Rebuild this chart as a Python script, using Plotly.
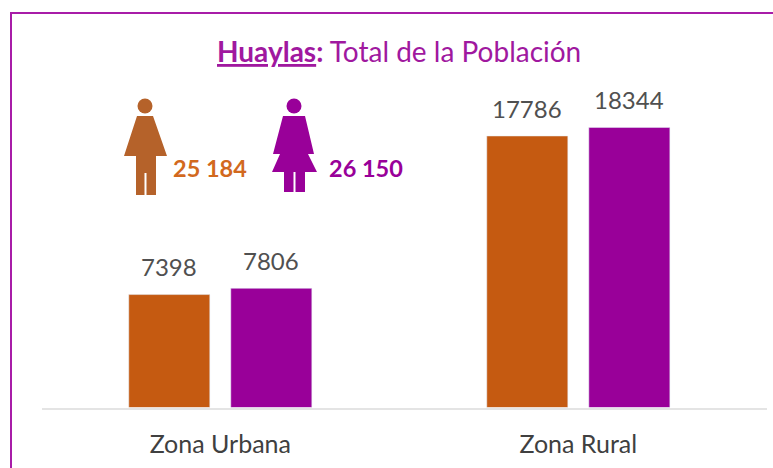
import plotly.graph_objects as go

W, H = 773, 468
categories = ["Zona Urbana", "Zona Rural"]
hombres = [7398, 17786]
mujeres = [7806, 18344]
total_hombres = "25 184"
total_mujeres = "26 150"
C_M = "#C55A11"
C_F = "#990099"
C_M_ICON = "#B5622A"
FONT = "Lato"

def px(x): return x / W
def py(y): return 1 - y / H
def path(points):
    return "M" + " L".join(f"{px(x):.5f},{py(y):.5f}" for x, y in points) + " Z"

man = [(137,116),(153,116),(167,156),(156,156),(156,195),(146.5,195),(146.5,173),(144.5,173),(144.5,195),(136,195),(136,156),(124,156)]
woman = [(283,116),(305,116),(314,154),(308,154),(317,172),(305,172),(305,192),(295.5,192),(295.5,172),(293.5,172),(293.5,192),(284,192),(284,172),(272,172),(280,154),(273,154)]

fig = go.Figure()
fig.add_bar(x=categories, y=hombres, marker_color=C_M, name="Hombres")
fig.add_bar(x=categories, y=mujeres, marker_color=C_F, name="Mujeres")

shapes = [
    dict(type="line", xref="paper", yref="paper", x0=px(11), x1=px(11), y0=py(13), y1=py(468), line=dict(color="#A81CA8", width=2)),
    dict(type="line", xref="paper", yref="paper", x0=px(10), x1=px(773), y0=py(13), y1=py(13), line=dict(color="#A81CA8", width=2)),
    dict(type="circle", xref="paper", yref="paper", x0=px(137.5), x1=px(152.5), y0=py(113.5), y1=py(98.5), fillcolor=C_M_ICON, line_width=0),
    dict(type="path", xref="paper", yref="paper", path=path(man), fillcolor=C_M_ICON, line_width=0),
    dict(type="circle", xref="paper", yref="paper", x0=px(286.5), x1=px(301.5), y0=py(113.5), y1=py(98.5), fillcolor=C_F, line_width=0),
    dict(type="path", xref="paper", yref="paper", path=path(woman), fillcolor=C_F, line_width=0),
]

def label(x, y, text, size, color):
    return dict(xref="paper", yref="paper", x=px(x), y=py(y), xanchor="center", yanchor="middle",
                showarrow=False, text=text, font=dict(family=FONT, size=size, color=color))

annotations = [
    label(398.5, 51, "<b><u>Huaylas</u>:</b> Total de la Población", 28, "#A0189F"),
    label(210, 168, f"<b>{total_hombres}</b>", 23.5, "#D2691E"),
    label(366, 168, f"<b>{total_mujeres}</b>", 23.5, C_F),
]
for i in range(len(categories)):
    for vals, shift in ((hombres, -51), (mujeres, 51)):
        annotations.append(dict(x=i, y=vals[i], xref="x", yref="y", xshift=shift, yshift=28,
                                xanchor="center", yanchor="middle",
                                showarrow=False, text=str(vals[i]),
                                font=dict(family=FONT, size=24, color="#505050")))

fig.update_layout(
    width=W, height=H, margin=dict(l=0, r=0, t=0, b=0),
    paper_bgcolor="white", plot_bgcolor="white", showlegend=False,
    barmode="group", bargap=0.43, bargroupgap=0.206,
    shapes=shapes, annotations=annotations,
    font=dict(family=FONT, color="#404040"),
    xaxis=dict(domain=[px(42), px(767)], range=[-0.498, 1.527], showgrid=False,
               ticks="outside", ticklen=13, tickcolor="rgba(0,0,0,0)",
               showline=True, linecolor="#E4E4E4", linewidth=2,
               tickfont=dict(family=FONT, size=25, color="#404040"), automargin=False),
    yaxis=dict(domain=[py(407.5), py(89.5)], range=[0, 20832], visible=False),
)
fig.write_html("out.html", config=dict(displayModeBar=False),
               post_script="document.body.style.margin='0';document.documentElement.style.overflow='hidden';")
